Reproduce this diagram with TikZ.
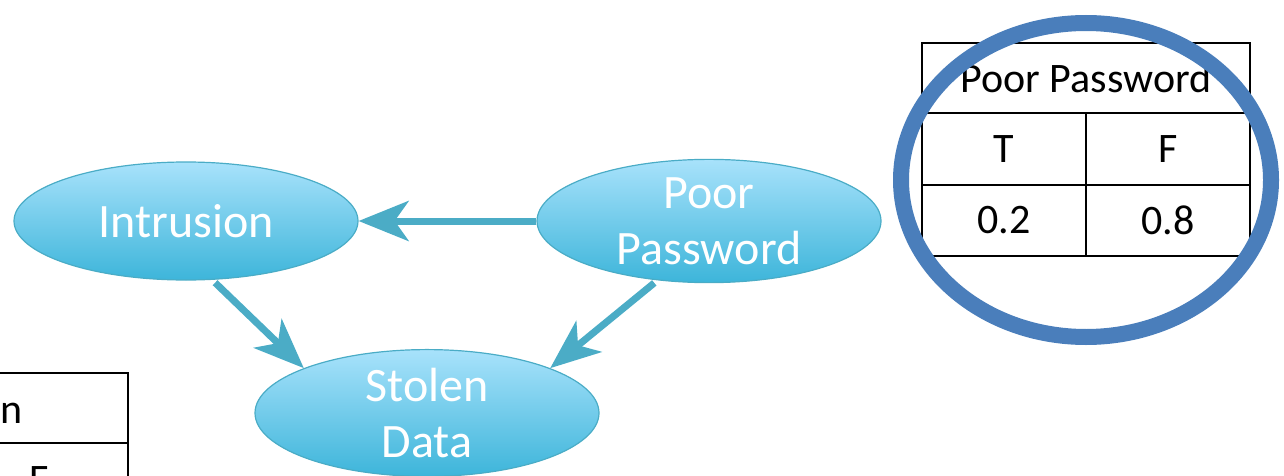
\documentclass[tikz,border=0pt]{standalone}
\usepackage{fontspec}
\setmainfont{Carlito}
\usetikzlibrary{shapes.geometric,arrows.meta}
\definecolor{ellTop}{RGB}{168,226,251}
\definecolor{ellBot}{RGB}{61,181,218}
\definecolor{ellLine}{RGB}{74,172,198}
\definecolor{linkc}{RGB}{75,172,198}
\definecolor{ringc}{RGB}{74,126,187}
\tikzstyle{var node} = [ellipse,draw=ellLine,line width=1.2pt,top color=ellTop,bottom color=ellBot,
                        minimum width=344pt,minimum height=118pt,inner sep=0,text=white,align=center,
                        font=\fontsize{48}{56}\selectfont]
\tikzstyle{cell}     = [rectangle,draw=black,line width=1.6pt,inner sep=0,font=\fontsize{42}{48}\selectfont]
\tikzstyle{link}     = [draw=linkc,line width=7pt,-{Stealth[length=50pt,width=40pt,inset=14pt]}]

\begin{document}
\begin{tikzpicture}[x=1pt,y=-1pt]
\useasboundingbox (0,0) rectangle (1284,476);

    % network
    \node(intr)[var node] at (186,221) {Intrusion};
    \node(pp)[var node] at (709,221) {Poor\\Password};
    \node(stolen)[var node] at (427,413) {Stolen\\Data};

    \draw[link](pp.west)--(intr.east);
    \draw[link,shorten <=4pt](intr.-66)--(stolen.160);
    \draw[link,shorten <=4pt](pp.-131)--(stolen.20);

    % table of Poor Password
    \node(pphead)[cell,minimum width=328pt,minimum height=70pt] at (1086,78) {Poor Password};
    \node(ppT)[cell,minimum width=164pt,minimum height=72pt] at (1004,149) {T};
    \node(ppF)[cell,minimum width=164pt,minimum height=72pt] at (1168,149) {F};
    \node(ppTv)[cell,minimum width=164pt,minimum height=71pt] at (1004,220.5) {0.2};
    \node(ppFv)[cell,minimum width=164pt,minimum height=71pt] at (1168,220.5) {0.8};

    \draw[ringc,line width=16pt](1086,180) ellipse [x radius=185, y radius=157];

    % table of Intrusion, cut off
    \draw[line width=1.6pt](0,373)-|(128,480);
    \draw[line width=1.6pt](0,443)--(128,443);
    \node(ihead)[anchor=base west,inner sep=0,font=\fontsize{42}{48}\selectfont] at (0,423) {n};
    \node(iF)[anchor=base west,inner sep=0,font=\fontsize{42}{48}\selectfont] at (29,493) {F};

\end{tikzpicture}
\end{document}
